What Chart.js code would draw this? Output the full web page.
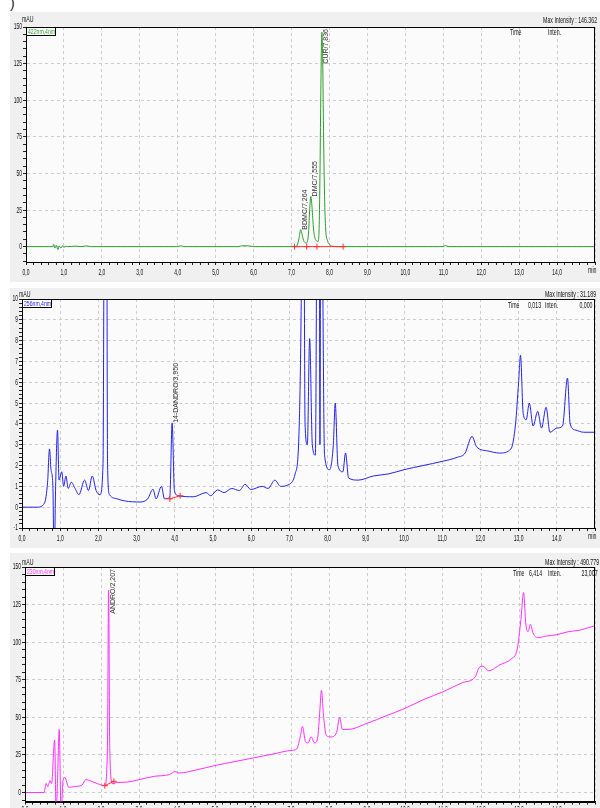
<!DOCTYPE html>
<html>
<head>
<meta charset="utf-8">
<script src="https://cdn.jsdelivr.net/npm/chart.js@4.4.1/dist/chart.umd.min.js"></script>
<style>
body{margin:0;width:600px;height:808px;overflow:hidden;background:#fff;position:relative;font-family:'Liberation Sans',Arial,sans-serif}
.panel{position:absolute;left:10px;width:590px;background:#f0f0f0}
.panel canvas{position:absolute;left:0;top:0}
.t{position:absolute;font-size:9px;line-height:9px;color:#111;white-space:nowrap;transform:scaleX(0.58);transform-origin:left top}
.r{transform-origin:right top}
.leg{position:absolute;width:28px;height:7px;border:1px solid #000;background:#fff;font-size:8px;line-height:7px;overflow:hidden;white-space:nowrap}
.leg span{display:inline-block;transform:scaleX(0.64);transform-origin:left top;margin-left:1px}
</style>
</head>
<body>
<div style="position:absolute;left:10px;top:-4px;font-size:14px;line-height:14px;color:#222">)</div>

<div class="panel" style="top:12px;height:270px"><canvas id="c1" width="590" height="270"></canvas></div>
<div class="panel" style="top:288px;height:260px"><canvas id="c2" width="590" height="260"></canvas></div>
<div class="panel" style="top:553px;height:255px"><canvas id="c3" width="590" height="255"></canvas></div>

<!-- panel 1 texts -->
<div class="t" style="left:22px;top:15px">mAU</div>
<div class="t r" style="right:3px;top:16px">Max Intensity : 146.362</div>
<div class="t" style="left:510px;top:28px">Time</div>
<div class="t" style="left:548px;top:28px">Inten.</div>
<div class="t r" style="right:3px;top:266px">min</div>
<div class="leg" style="left:26px;top:27px;color:#2e9e2e"><span>422nm,4nm</span></div>

<!-- panel 2 texts -->
<div class="t" style="left:19px;top:290px">mAU</div>
<div class="t r" style="right:4px;top:290px">Max Intensity : 31.189</div>
<div class="t" style="left:508px;top:301px">Time</div>
<div class="t" style="left:528px;top:301px">0,013</div>
<div class="t" style="left:545px;top:301px">Inten.</div>
<div class="t r" style="right:7px;top:301px">0,000</div>
<div class="t r" style="right:3px;top:532px">min</div>
<div class="leg" style="left:22px;top:299px;color:#2323ee"><span>256nm,4nm</span></div>

<!-- panel 3 texts -->
<div class="t" style="left:22px;top:558px">mAU</div>
<div class="t r" style="right:1px;top:558px">Max Intensity : 490.779</div>
<div class="t" style="left:513px;top:569px">Time</div>
<div class="t" style="left:529px;top:569px">6,414</div>
<div class="t" style="left:548px;top:569px">Inten.</div>
<div class="t r" style="right:2px;top:569px">23,007</div>
<div class="leg" style="left:25px;top:567px;color:#ff30ff"><span>230nm,4nm</span></div>

<script>
// ---- data: 422 nm (green)
const greenT = [0,0.7,0.73,0.76,0.8,0.84,0.88,0.92,0.96,1.0,1.05,1.1,1.3,1.45,1.6,1.7,4.0,4.08,4.16,5.6,5.7,5.9,6.0,
  7.1,7.15,7.2,7.24,7.28,7.33,7.4,7.45,7.48,7.51,7.54,7.58,7.64,7.7,7.73,7.75,7.77,7.79,7.8,7.82,7.84,7.87,7.9,7.95,8.02,8.1,8.3,
  11.0,11.05,11.15,15];
const greenV = [0,0,1.5,-1,1,-2,0.5,-1,0.5,-0.5,0.3,0,0.3,0,0.5,0,0,0.6,0,0,0.6,0.4,0,
  0,1,6,11.6,8,3.5,2.5,10,26,34.3,27,12,4.5,3.6,15,50,100,140,146.4,130,86,35,12,4,1,0.2,0,
  0,0.7,0,0];
const greenMarkT = [7.08,7.4,7.67,8.36];

// ---- data: 256 nm (blue)
const blueT = [0,0.4,0.59,0.67,0.72,0.76,0.81,0.84,0.88,0.93,0.97,1.04,1.09,1.15,1.21,1.29,1.39,1.49,1.64,1.74,1.84,1.94,2.04,
  2.12,2.16,2.2,2.24,2.29,2.49,2.69,3.09,3.29,3.43,3.51,3.65,3.73,3.87,3.93,3.99,4.09,4.49,4.82,4.94,5.12,5.29,5.49,5.69,5.84,5.99,
  6.29,6.44,6.62,6.77,7.0,7.15,7.25,7.32,7.36,7.41,7.47,7.53,7.6,7.68,7.73,7.77,7.8,7.83,7.87,7.92,8.05,8.15,8.2,8.27,8.4,
  8.47,8.55,8.8,9.2,9.6,10.0,10.5,11.0,11.4,11.6,11.78,11.9,12.2,12.5,12.8,12.92,13.0,13.05,13.12,13.2,13.28,13.38,13.5,
  13.6,13.72,13.82,14.0,14.15,14.28,14.35,14.5,14.7,15];
const blueV = [0,0,0.2,1.2,2.8,1.8,0.9,-3,1.0,3.7,1.3,1.7,1.0,1.5,0.9,1.2,0.9,0.6,1.3,0.8,1.5,0.8,0.6,
  2,20,31,2,0.6,0.4,0.3,0.25,0.4,0.86,0.4,1.0,0.4,0.5,4.05,0.8,0.55,0.5,0.7,0.55,0.83,0.7,0.9,0.8,1.1,0.85,
  1.0,0.9,1.3,1.0,1.1,1.6,3.5,12,25,4,3,8.1,3,2.5,20,31,3,25,12,2.5,1.8,3,5.0,2,1.7,
  2.6,1.4,1.3,1.5,1.6,1.8,2.0,2.2,2.4,2.6,3.4,2.9,2.7,2.6,2.8,4.0,6.0,7.3,4.5,4.2,5.0,3.9,4.6,
  3.8,4.8,3.6,3.8,3.9,6.2,4.0,3.7,3.6,3.6];
const blueMarkT = [3.87,4.14];
const blueMarkV = [0.4,0.55];

// ---- data: 230 nm (magenta)
const pinkT = [0,0.5,0.56,0.6,0.66,0.7,0.78,0.82,0.86,0.9,0.95,1.0,1.05,1.15,1.3,1.5,1.6,1.7,1.9,2.1,2.17,2.2,2.23,2.3,2.4,
  2.7,3.0,3.4,3.8,3.95,4.05,4.5,5.0,5.5,6.0,6.5,7.0,7.15,7.25,7.3,7.38,7.45,7.53,7.62,7.7,7.76,7.8,7.86,7.93,8.05,8.2,8.28,
  8.35,8.5,9.0,9.5,10.0,10.5,11.0,11.5,11.85,11.95,12.05,12.2,12.5,12.8,12.95,13.05,13.12,13.18,13.24,13.3,13.37,13.5,13.7,
  14.0,14.3,14.6,15];
const pinkV = [0,0,6,4,8,6,35,-15,12,42,-15,8,10,3.5,4,5,8.6,8,6,4.6,30,134.6,30,6,6.6,
  7,8.6,10.8,12,14,13,15,18,20.5,23,25.5,28,29,38,44,34,33,37,33,36,55,68,50,38,37,40,50,
  42,42,46,51,56,62,67,73,77,83,84,81,85,89,95,115,133,112,107,112,106,103,104,
  105,107,108,111];
const pinkMarkT = [2.1,2.34];
const pinkMarkV = [4.6,7.5];

// ---- peak labels
const greenPeakNames = ['BDMC/7,264','DMC/7,555','CUR/7,836'];
const greenPeakT = [7.24,7.51,7.8];
const greenPeakV = [11.6,34.3,146.4];
const bluePeakNames = ['14-DANDRO/3,950'];
const bluePeakT = [3.93];
const bluePeakV = [4.05];
const pinkPeakNames = ['ANDRO/2,207'];
const pinkPeakT = [2.2];
const pinkPeakV = [134.6];

const FONT = "'Liberation Sans',Arial,sans-serif";
const SQUEEZE = 0.55;

function near(v, step) {
  return Math.abs(v / step - Math.round(v / step)) < 1e-6;
}

function pts(xs, ys) {
  return xs.map((x, i) => ({x: x, y: ys[i]}));
}

// the instrument software uses a very narrow font: squeeze text horizontally
function narrowText(canvas) {
  const ctx = canvas.getContext('2d');
  const orig = ctx.fillText.bind(ctx);
  ctx.squeeze = SQUEEZE;
  ctx.fillText = function(txt, x, y) {
    this.save();
    this.translate(x, y);
    this.scale(this.squeeze, 1);
    orig(txt, 0, 0);
    this.restore();
  };
  return canvas;
}

const frame = {
  id: 'frame',
  beforeDraw(chart) {
    const a = chart.chartArea, c = chart.ctx;
    c.save();
    c.fillStyle = '#fbfbfb';
    c.fillRect(a.left, a.top, a.right - a.left, a.bottom - a.top);
    c.restore();
  },
  afterDraw(chart) {
    const a = chart.chartArea, c = chart.ctx;
    c.save();
    c.strokeStyle = '#000';
    c.lineWidth = 1;
    c.strokeRect(Math.round(a.left) + 0.5, Math.round(a.top) + 0.5, Math.round(a.right - a.left) - 1, Math.round(a.bottom - a.top));
    // vertical peak labels
    const o = chart.options.plugins.peaks;
    c.font = '7px ' + FONT;
    c.fillStyle = '#333';
    c.textBaseline = 'middle';
    c.squeeze = 1;
    o.names.forEach((n, i) => {
      const x = chart.scales.x.getPixelForValue(o.t[i]) + 4;
      const w = c.measureText(n).width;
      let y = chart.scales.y.getPixelForValue(o.v[i]);
      y = Math.max(y, a.top + w + 2);
      c.save();
      c.translate(x, y);
      c.rotate(-Math.PI / 2);
      c.fillText(n, 0, 0);
      c.restore();
    });
    c.squeeze = SQUEEZE;
    c.restore();
  }
};

function makeChart(id, cfg) {
  return new Chart(narrowText(document.getElementById(id)), {
    type: 'line',
    data: {
      datasets: [
        {data: pts(cfg.t, cfg.v), borderColor: cfg.color, borderWidth: 1, pointRadius: 0, cubicInterpolationMode: 'monotone', order: 2},
        {data: pts(cfg.markT, cfg.markV), borderColor: '#ff3030', borderWidth: 1, pointRadius: 3, pointStyle: 'cross',
          pointBorderColor: '#ff3030', pointBorderWidth: 1, order: 1}
      ]
    },
    options: {
      responsive: false,
      animation: false,
      events: [],
      layout: {padding: cfg.pad},
      plugins: {legend: {display: false}, tooltip: {enabled: false}, peaks: cfg.peaks},
      scales: {
        x: {
          type: 'linear', min: 0, max: 15,
          afterFit: s => { s.height = cfg.xh; },
          border: {color: '#000', dash: [3, 3]},
          grid: {
            color: c => near(c.tick.value, 1) ? '#cccccc' : 'rgba(0,0,0,0)',
            tickColor: '#222', tickLength: 3
          },
          ticks: {
            stepSize: 0.2, autoSkip: false, maxRotation: 0, includeBounds: false, padding: cfg.xpad,
            color: '#111', font: {family: FONT, size: 9},
            callback: v => near(v, 1) && v < 15 ? v.toFixed(1).replace('.', ',') : ''
          }
        },
        y: {
          min: cfg.ymin, max: cfg.ymax,
          afterFit: s => { s.width = cfg.yw; },
          border: {color: '#000', dash: [3, 3]},
          grid: {
            color: c => near(c.tick.value, cfg.major) ? '#cccccc' : 'rgba(0,0,0,0)',
            tickColor: '#222', tickLength: 3
          },
          ticks: {
            stepSize: cfg.minor, autoSkip: false, includeBounds: false, padding: 1,
            color: '#111', font: {family: FONT, size: 9},
            callback: v => near(v, cfg.major) ? String(Math.round(v)) : ''
          }
        }
      }
    },
    plugins: [frame]
  });
}

makeChart('c1', {
  t: greenT, v: greenV, color: '#2e9e2e',
  markT: greenMarkT, markV: greenMarkT.map(() => 0),
  ymin: -10.5, ymax: 150, major: 25, minor: 5,
  pad: {top: 15, right: 3, left: 0, bottom: 0}, yw: 16, xh: 20, xpad: 2,
  peaks: {names: greenPeakNames, t: greenPeakT, v: greenPeakV}
});

makeChart('c2', {
  t: blueT, v: blueV, color: '#2323ee',
  markT: blueMarkT, markV: blueMarkV,
  ymin: -1, ymax: 10, major: 1, minor: 0.2,
  pad: {top: 11, right: 3, left: 0, bottom: 0}, yw: 12, xh: 20, xpad: 2,
  peaks: {names: bluePeakNames, t: bluePeakT, v: bluePeakV}
});

makeChart('c3', {
  t: pinkT, v: pinkV, color: '#ff30ff',
  markT: pinkMarkT, markV: pinkMarkV,
  ymin: -6, ymax: 150, major: 25, minor: 5,
  pad: {top: 14, right: 3, left: 0, bottom: 0}, yw: 15, xh: 6, xpad: 0,
  peaks: {names: pinkPeakNames, t: pinkPeakT, v: pinkPeakV}
});
</script>
</body>
</html>
